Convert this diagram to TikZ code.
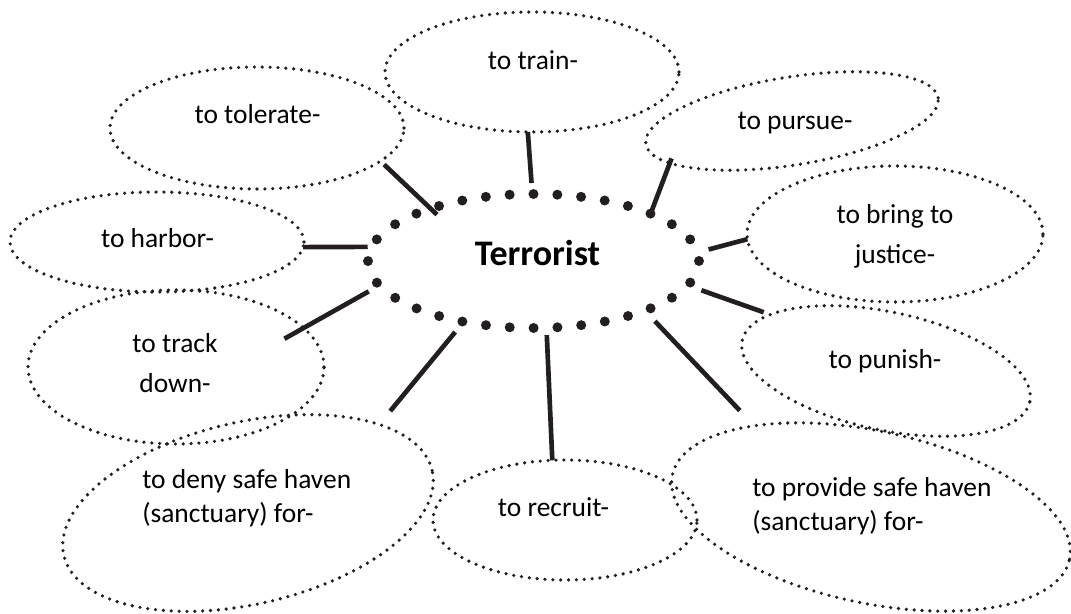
\documentclass[tikz,border=0pt]{standalone}
\usepackage{fontspec}
\setmainfont{Carlito}
\usetikzlibrary{shapes.geometric}
\definecolor{ink}{HTML}{231F20}
\tikzstyle{bubble}=[ellipse,draw=ink,line width=2.7pt,dash pattern=on 0pt off 5.9pt,line cap=round,inner sep=0pt,outer sep=0pt]
\tikzstyle{hub}=[ellipse,draw=ink,line width=7.5pt,dash pattern=on 0pt off 17.9pt,line cap=round,inner sep=0pt,outer sep=0pt,minimum width=248.25pt,minimum height=100.5pt]
\tikzstyle{spoke}=[draw=ink,line width=3.5pt]
\tikzstyle{word}=[font=\fontsize{20.6pt}{25.5pt}\selectfont,inner sep=0pt]
\tikzstyle{title}=[font=\fontsize{27pt}{32pt}\selectfont\bfseries,inner sep=0pt]

\begin{document}
\begin{tikzpicture}[x=0.75pt,y=-0.75pt]
    \useasboundingbox (0,0) rectangle (1071,614);

    % dotted ring in the middle
    \node[hub] (hub) at (533.5,261) {};
    \node[title,anchor=base] (hubtext) at (537.5,265) {Terrorist};

    % bubbles round it: name/x/y/half width/half height/tilt
    \foreach \name/\cx/\cy/\rx/\ry/\tilt in {tolerate/257/128/147/61/0, train/532/72/147/60/0,
        pursue/792/121/148/44/9, harbor/157/242/147/50/0, justice/895/234/148/68/0,
        track/176/367/148/77/0, punish/886/371/147/59/-12, deny/248/513/189/91/13,
        recruit/565/520/132/60/0, provide/871/517/203/86/-12}
        \node[bubble,minimum width=2*\rx*0.75pt,minimum height=2*\ry*0.75pt,rotate=\tilt] (\name) at (\cx,\cy) {};

    % texts in the bubbles (base of a two line text is its last line)
    \node[word,anchor=base] (toleratetext) at (257.5,123) {to tolerate-};
    \node[word,anchor=base] (traintext) at (533,69) {to train-};
    \node[word,anchor=base] (pursuetext) at (795,129) {to pursue-};
    \node[word,anchor=base] (harbortext) at (157.5,247) {to harbor-};
    \node[word,anchor=base,align=center] (justicetext) at (895,263) {to bring to\\[4pt]justice-};
    \node[word,anchor=base,align=center] (tracktext) at (175,392) {to track\\[4pt]down-};
    \node[word,anchor=base] (punishtext) at (885,368) {to punish-};
    \node[word,anchor=base west,align=left] (denytext) at (142,522) {to deny safe haven\\(sanctuary) for-};
    \node[word,anchor=base] (recruittext) at (553.5,516) {to recruit-};
    \node[word,anchor=base west,align=left] (providetext) at (752,530) {to provide safe haven\\(sanctuary) for-};

    % spokes: bubble/anchor/shorten there/hub anchor/shorten at hub
    \foreach \src/\sa/\ss/\da/\ds in {tolerate/-15/3.75pt/153.6/-6.6pt, train/-94/0pt/91/8.25pt,
        pursue/190.8/-3.75pt/22.6/0pt, justice/182/0pt/3.9/8.5pt, punish/166.4/5.25pt/-9.1/11pt,
        provide/154.6/15.75pt/-24.4/11pt, recruit/102.9/0pt/-79.7/5.5pt, deny/21.7/13pt/-139.7/10pt,
        track/17.4/-16.5pt/-171.1/9.2pt, harbor/-2.3/0pt/175.5/3pt}
        \path[spoke,shorten <=\ss,shorten >=\ds] (\src.\sa) -- (hub.\da);
\end{tikzpicture}
\end{document}
